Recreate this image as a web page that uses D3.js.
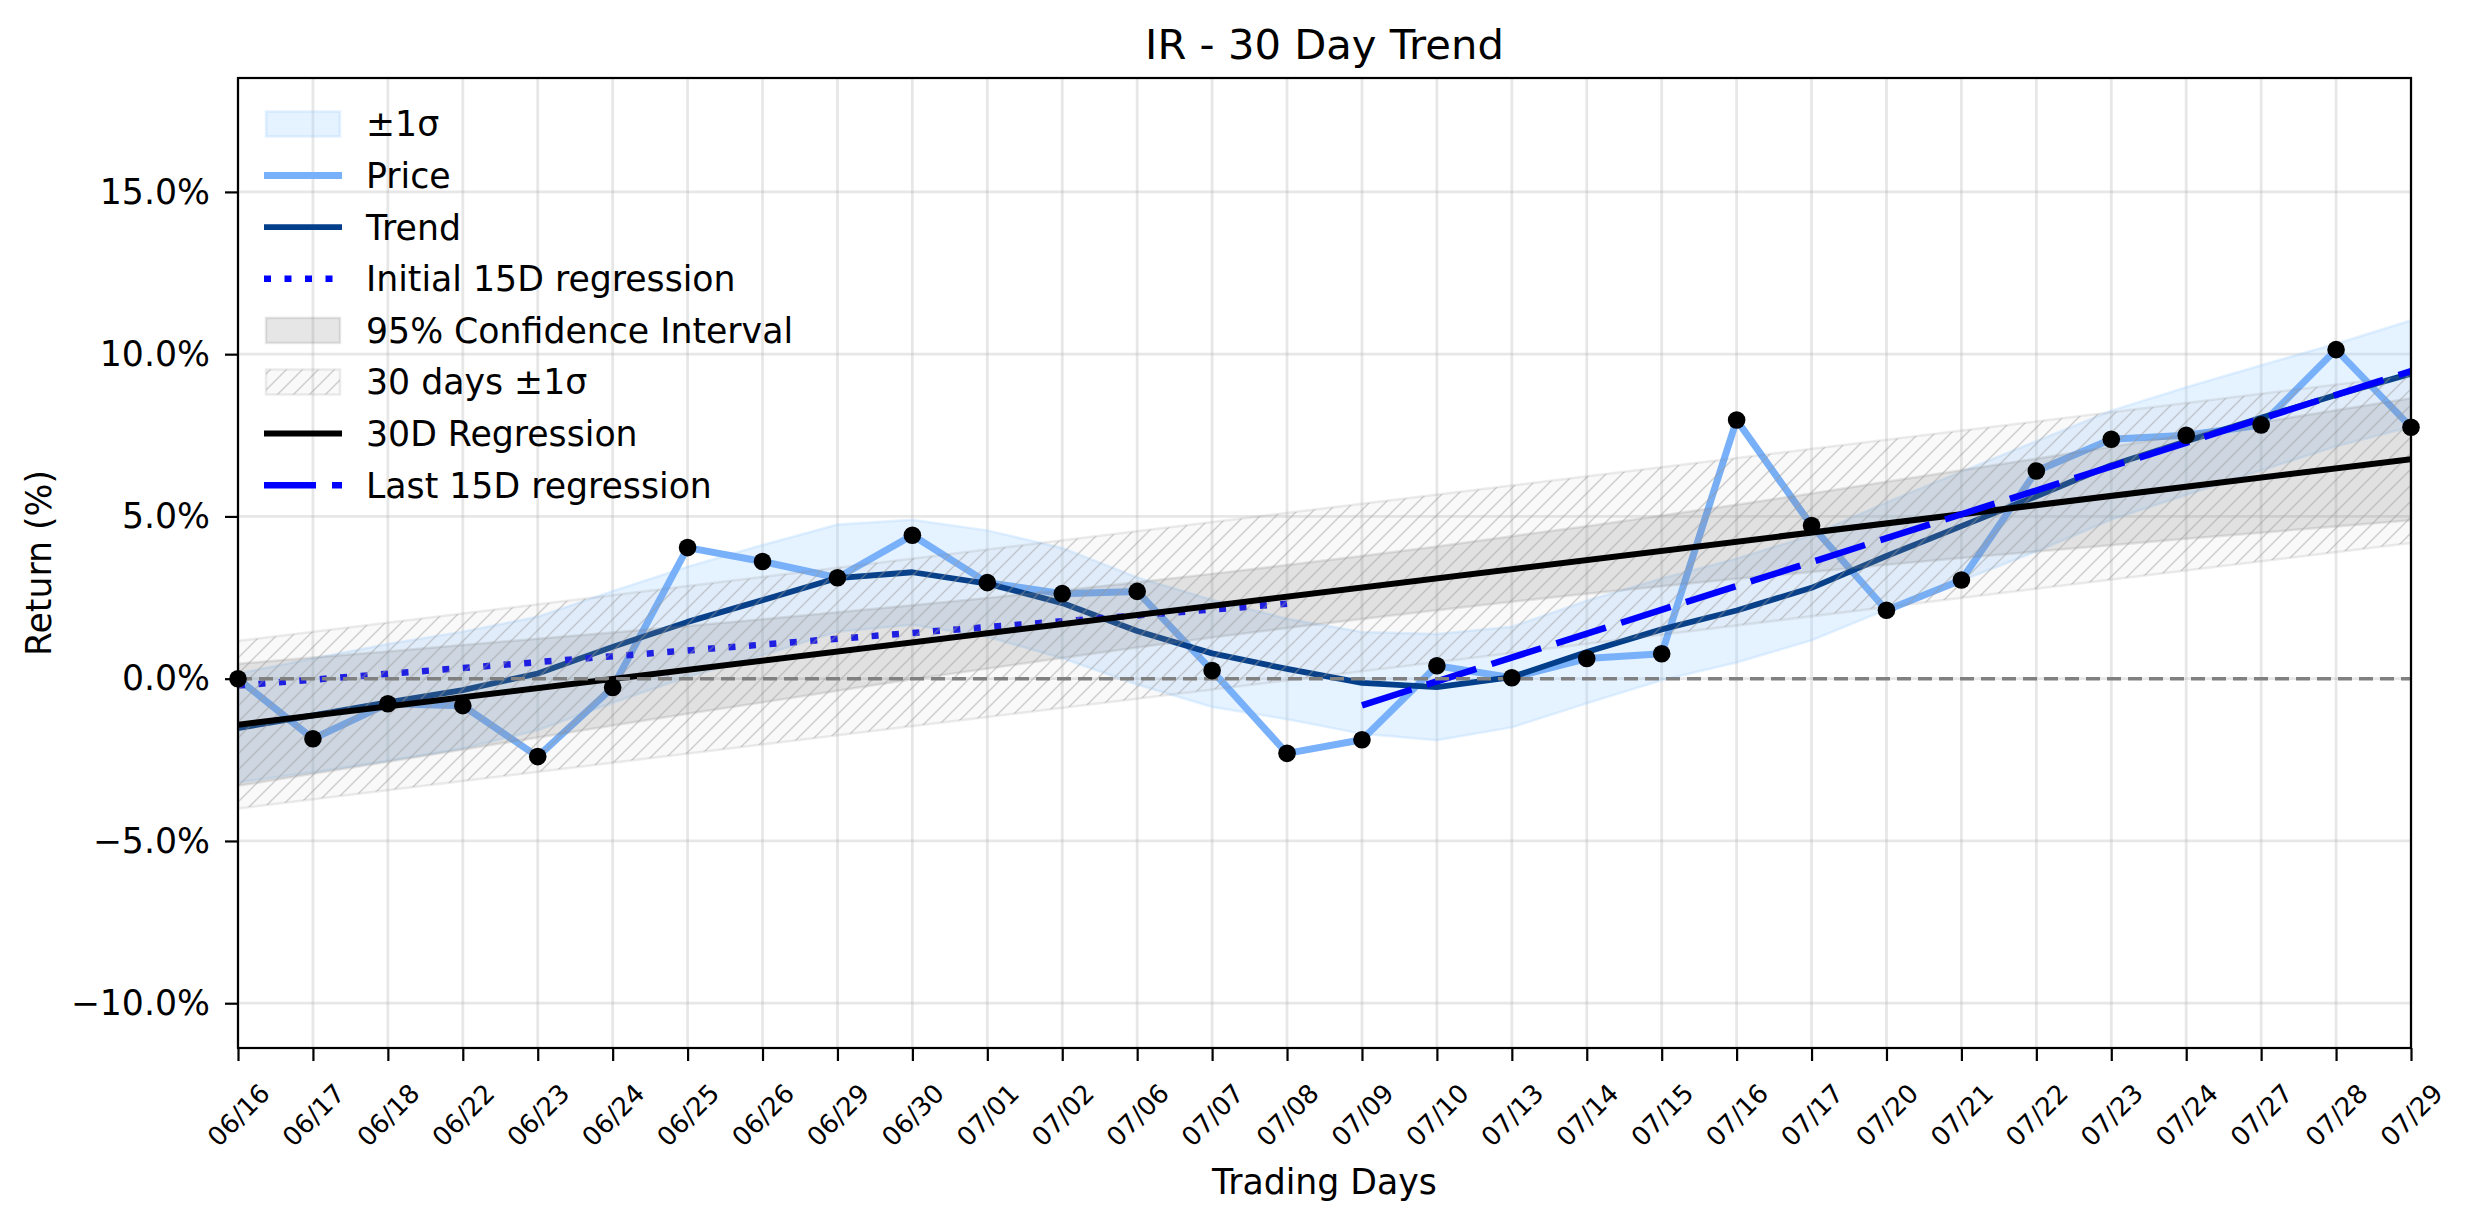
<!DOCTYPE html>
<html>
<head>
<meta charset="utf-8">
<script src="https://cdn.jsdelivr.net/npm/d3@7"></script>
<style>
  html, body { margin: 0; padding: 0; background: #fff; }
  svg { display: block; font-family: "DejaVu Sans", sans-serif; }
</style>
</head>
<body>
<svg id="chart" width="2474" height="1224"></svg>
<script>
// ---------------- DATA ----------------
const dates = ["06/16","06/17","06/18","06/22","06/23","06/24","06/25","06/26","06/29","06/30",
               "07/01","07/02","07/06","07/07","07/08","07/09","07/10","07/13","07/14","07/15",
               "07/16","07/17","07/20","07/21","07/22","07/23","07/24","07/27","07/28","07/29"];

const price = [0.00, -1.85, -0.77, -0.83, -2.40, -0.27, 4.04, 3.61, 3.11, 4.42,
               2.96, 2.62, 2.69, 0.25, -2.30, -1.88, 0.40, 0.03, 0.62, 0.77,
               7.97, 4.72, 2.11, 3.04, 6.40, 7.38, 7.50, 7.82, 10.14, 7.75];

const trend = [-1.52, -1.13, -0.73, -0.35, 0.16, 0.98, 1.75, 2.42, 3.10, 3.28,
               2.93, 2.33, 1.47, 0.78, 0.30, -0.13, -0.26, 0.05, 0.82, 1.52,
               2.10, 2.80, 3.78, 4.70, 5.62, 6.58, 7.32, 8.04, 8.74, 9.40];

const sigmaUpper = [0.16, 0.62, 1.07, 1.45, 1.91, 2.70, 3.45, 4.12, 4.75, 4.90,
                    4.57, 4.03, 3.12, 2.43, 1.85, 1.44, 1.38, 1.60, 2.40, 3.09,
                    3.70, 4.42, 5.43, 6.38, 7.32, 8.26, 8.98, 9.66, 10.32, 11.04];
const sigmaLower = [-3.20, -2.88, -2.53, -2.15, -1.59, -0.74, 0.05, 0.72, 1.45, 1.66,
                    1.29, 0.63, -0.18, -0.87, -1.25, -1.70, -1.90, -1.50, -0.76, -0.05,
                    0.50, 1.18, 2.13, 3.02, 3.92, 4.90, 5.66, 6.42, 7.16, 7.76];

const ciUpper = [0.46, 0.65, 0.84, 1.04, 1.23, 1.42, 1.62, 1.83, 2.05, 2.26,
                 2.49, 2.72, 2.97, 3.23, 3.50, 3.78, 4.07, 4.39, 4.70, 5.03,
                 5.36, 5.71, 6.07, 6.42, 6.78, 7.15, 7.52, 7.90, 8.27, 8.64];
const ciLower = [-3.30, -2.93, -2.56, -2.18, -1.81, -1.44, -1.08, -0.73, -0.37, -0.02,
                 0.31, 0.64, 0.96, 1.27, 1.56, 1.84, 2.11, 2.37, 2.62, 2.85,
                 3.08, 3.29, 3.51, 3.72, 3.92, 4.11, 4.31, 4.50, 4.69, 4.88];

// straight lines: [start, end] index and value pairs
const reg30X = [0, 29],  reg30Y = [-1.42, 6.76];
const band30X = [0, 29], band30Upper = [1.16, 9.34], band30Lower = [-4.00, 4.18];
const init15X = [0, 14], init15Y = [-0.21, 2.31];
const last15X = [15, 29], last15Y = [-0.82, 9.48];

const yTicks = [-10, -5, 0, 5, 10, 15];

const legendLabels = ["±1σ", "Price", "Trend", "Initial 15D regression", "95% Confidence Interval",
                      "30 days ±1σ", "30D Regression", "Last 15D regression"];

// ---------------- STYLE ----------------
const C = {
  price: "#78b0fa", trend: "#023e8a", blue: "#0000ff",
  band: "#99ccff", gray: "#808080"
};
const FS = 34.7;

const svg = d3.select("#chart");
const L = 238, R = 2411, T = 78, B = 1048;

const x = d3.scaleLinear().domain([0, 29]).range([L, R]);
const y = d3.scaleLinear().domain([-11.38, 18.51]).range([B, T]);
const idx = d3.range(dates.length);

const defs = svg.append("defs");
defs.append("clipPath").attr("id", "clip").append("rect")
  .attr("x", L).attr("y", T).attr("width", R - L).attr("height", B - T);
const pat = defs.append("pattern").attr("id", "hatch").attr("patternUnits", "userSpaceOnUse")
  .attr("width", 16).attr("height", 16);
pat.append("path").attr("d", "M0,16 L16,0 M-4,4 L4,-4 M12,20 L20,12")
  .attr("stroke", "#9a9a9a").attr("stroke-width", 1.5).attr("stroke-opacity", 0.45);

// grid
const grid = svg.append("g");
grid.selectAll("line.v").data(idx).enter().append("line")
  .attr("x1", d => x(d)).attr("x2", d => x(d)).attr("y1", T).attr("y2", B)
  .attr("stroke", "#b0b0b0").attr("stroke-opacity", 0.3).attr("stroke-width", 2.8);
grid.selectAll("line.h").data(yTicks).enter().append("line")
  .attr("x1", L).attr("x2", R).attr("y1", d => y(d)).attr("y2", d => y(d))
  .attr("stroke", "#b0b0b0").attr("stroke-opacity", 0.3).attr("stroke-width", 2.8);

const plot = svg.append("g").attr("clip-path", "url(#clip)");

const area = (up, lo, xs) => d3.area().x((d, i) => x(xs[i])).y0((d, i) => y(lo[i])).y1(d => y(d))(up);
const line = d3.line().x(d => x(d[0])).y(d => y(d[1]));

// ±1σ band
plot.append("path").attr("d", area(sigmaUpper, sigmaLower, idx))
  .attr("fill", C.band).attr("fill-opacity", 0.25)
  .attr("stroke", C.band).attr("stroke-opacity", 0.25).attr("stroke-width", 2.5);

// price line
plot.append("path").attr("d", line(idx.map(i => [i, price[i]])))
  .attr("fill", "none").attr("stroke", C.price).attr("stroke-width", 7).attr("stroke-linejoin", "round");

// trend
plot.append("path").attr("d", d3.line().x((d, i) => x(i)).y(d => y(d))(trend))
  .attr("fill", "none").attr("stroke", C.trend).attr("stroke-width", 5.8).attr("stroke-linejoin", "round");

// initial 15D regression (dotted)
plot.append("path").attr("d", line(init15X.map((v, i) => [v, init15Y[i]])))
  .attr("fill", "none").attr("stroke", C.blue).attr("stroke-width", 6.5)
  .attr("stroke-dasharray", "7,13.5");

// 95% CI
plot.append("path").attr("d", area(ciUpper, ciLower, idx))
  .attr("fill", C.gray).attr("fill-opacity", 0.2)
  .attr("stroke", C.gray).attr("stroke-opacity", 0.2).attr("stroke-width", 2.5);

// 30 days ±1σ hatched
const hatchD = area(band30Upper, band30Lower, band30X);
plot.append("path").attr("d", hatchD).attr("fill", C.gray).attr("fill-opacity", 0.05)
  .attr("stroke", C.gray).attr("stroke-opacity", 0.15).attr("stroke-width", 2.5);
plot.append("path").attr("d", hatchD).attr("fill", "url(#hatch)");

// 30D regression
plot.append("path").attr("d", line(reg30X.map((v, i) => [v, reg30Y[i]])))
  .attr("fill", "none").attr("stroke", "#000").attr("stroke-width", 6);

// last 15D regression (dashed)
plot.append("path").attr("d", line(last15X.map((v, i) => [v, last15Y[i]])))
  .attr("fill", "none").attr("stroke", C.blue).attr("stroke-width", 6.5)
  .attr("stroke-dasharray", "52,16");

// zero line
plot.append("line").attr("x1", L).attr("x2", R).attr("y1", y(0)).attr("y2", y(0))
  .attr("stroke", "#808080").attr("stroke-width", 3.5).attr("stroke-dasharray", "14,7");

// markers
svg.append("g").selectAll("circle").data(idx).enter().append("circle")
  .attr("cx", d => x(d)).attr("cy", d => y(price[d])).attr("r", 8.8).attr("fill", "#000");

// axes
const yAxis = svg.append("g").attr("transform", `translate(${L},0)`)
  .call(d3.axisLeft(y).tickValues(yTicks).tickSize(13).tickPadding(15)
    .tickFormat(d => (d < 0 ? "\u2212" : "") + Math.abs(d).toFixed(1) + "%"));
yAxis.select(".domain").remove();
yAxis.selectAll("text").attr("font-size", FS).attr("fill", "#000").attr("font-family", "DejaVu Sans");
yAxis.selectAll("line").attr("stroke", "#000").attr("stroke-width", 2.2);

const xAxis = svg.append("g").attr("transform", `translate(0,${B})`)
  .call(d3.axisBottom(x).tickValues(idx).tickSize(13).tickFormat(i => dates[i]));
xAxis.select(".domain").remove();
xAxis.selectAll("line").attr("stroke", "#000").attr("stroke-width", 2.2);
xAxis.selectAll("text").attr("font-size", 26).attr("fill", "#000").attr("font-family", "DejaVu Sans")
  .attr("y", 0).attr("dy", "0.35em").attr("text-anchor", "middle")
  .attr("transform", "translate(0,67) rotate(-45)");

// spines
svg.append("rect").attr("x", L).attr("y", T).attr("width", R - L).attr("height", B - T)
  .attr("fill", "none").attr("stroke", "#000").attr("stroke-width", 2.2);

// titles
svg.append("text").attr("x", (L + R) / 2).attr("y", 59).attr("text-anchor", "middle")
  .attr("font-size", 41.7).text("IR - 30 Day Trend");
svg.append("text").attr("x", (L + R) / 2).attr("y", 1194).attr("text-anchor", "middle")
  .attr("font-size", FS).text("Trading Days");
svg.append("text").attr("transform", `translate(39,${(T + B) / 2}) rotate(-90)`)
  .attr("text-anchor", "middle").attr("dominant-baseline", "central")
  .attr("font-size", FS).text("Return (%)");

// legend
const lg = svg.append("g");
const rowY = i => 124 + i * 51.6;
const hx0 = 266, hx1 = 340;
legendLabels.forEach((lab, i) => {
  const cy = rowY(i);
  if (i === 0) {
    lg.append("rect").attr("x", hx0).attr("y", cy - 12.5).attr("width", hx1 - hx0).attr("height", 25)
      .attr("fill", C.band).attr("fill-opacity", 0.25).attr("stroke", C.band).attr("stroke-opacity", 0.25).attr("stroke-width", 2.5);
  } else if (i === 4) {
    lg.append("rect").attr("x", hx0).attr("y", cy - 12.5).attr("width", hx1 - hx0).attr("height", 25)
      .attr("fill", C.gray).attr("fill-opacity", 0.2).attr("stroke", C.gray).attr("stroke-opacity", 0.2).attr("stroke-width", 2.5);
  } else if (i === 5) {
    lg.append("rect").attr("x", hx0).attr("y", cy - 12.5).attr("width", hx1 - hx0).attr("height", 25)
      .attr("fill", C.gray).attr("fill-opacity", 0.05).attr("stroke", C.gray).attr("stroke-opacity", 0.15).attr("stroke-width", 2.5);
    lg.append("rect").attr("x", hx0).attr("y", cy - 12.5).attr("width", hx1 - hx0).attr("height", 25)
      .attr("fill", "url(#hatch)");
  } else {
    const st = {1: [C.price, 7, null], 2: [C.trend, 5.8, null], 3: [C.blue, 6.5, "7,13.5"],
                6: ["#000", 6, null], 7: [C.blue, 6.5, "52,16"]}[i];
    const ln = lg.append("line").attr("x1", hx0 - 2).attr("x2", hx1 + 2).attr("y1", cy).attr("y2", cy)
      .attr("stroke", st[0]).attr("stroke-width", st[1]);
    if (st[2]) ln.attr("stroke-dasharray", st[2]);
  }
  lg.append("text").attr("x", 366).attr("y", cy).attr("dy", "0.36em")
    .attr("font-size", FS).text(lab);
});
</script>
</body>
</html>
